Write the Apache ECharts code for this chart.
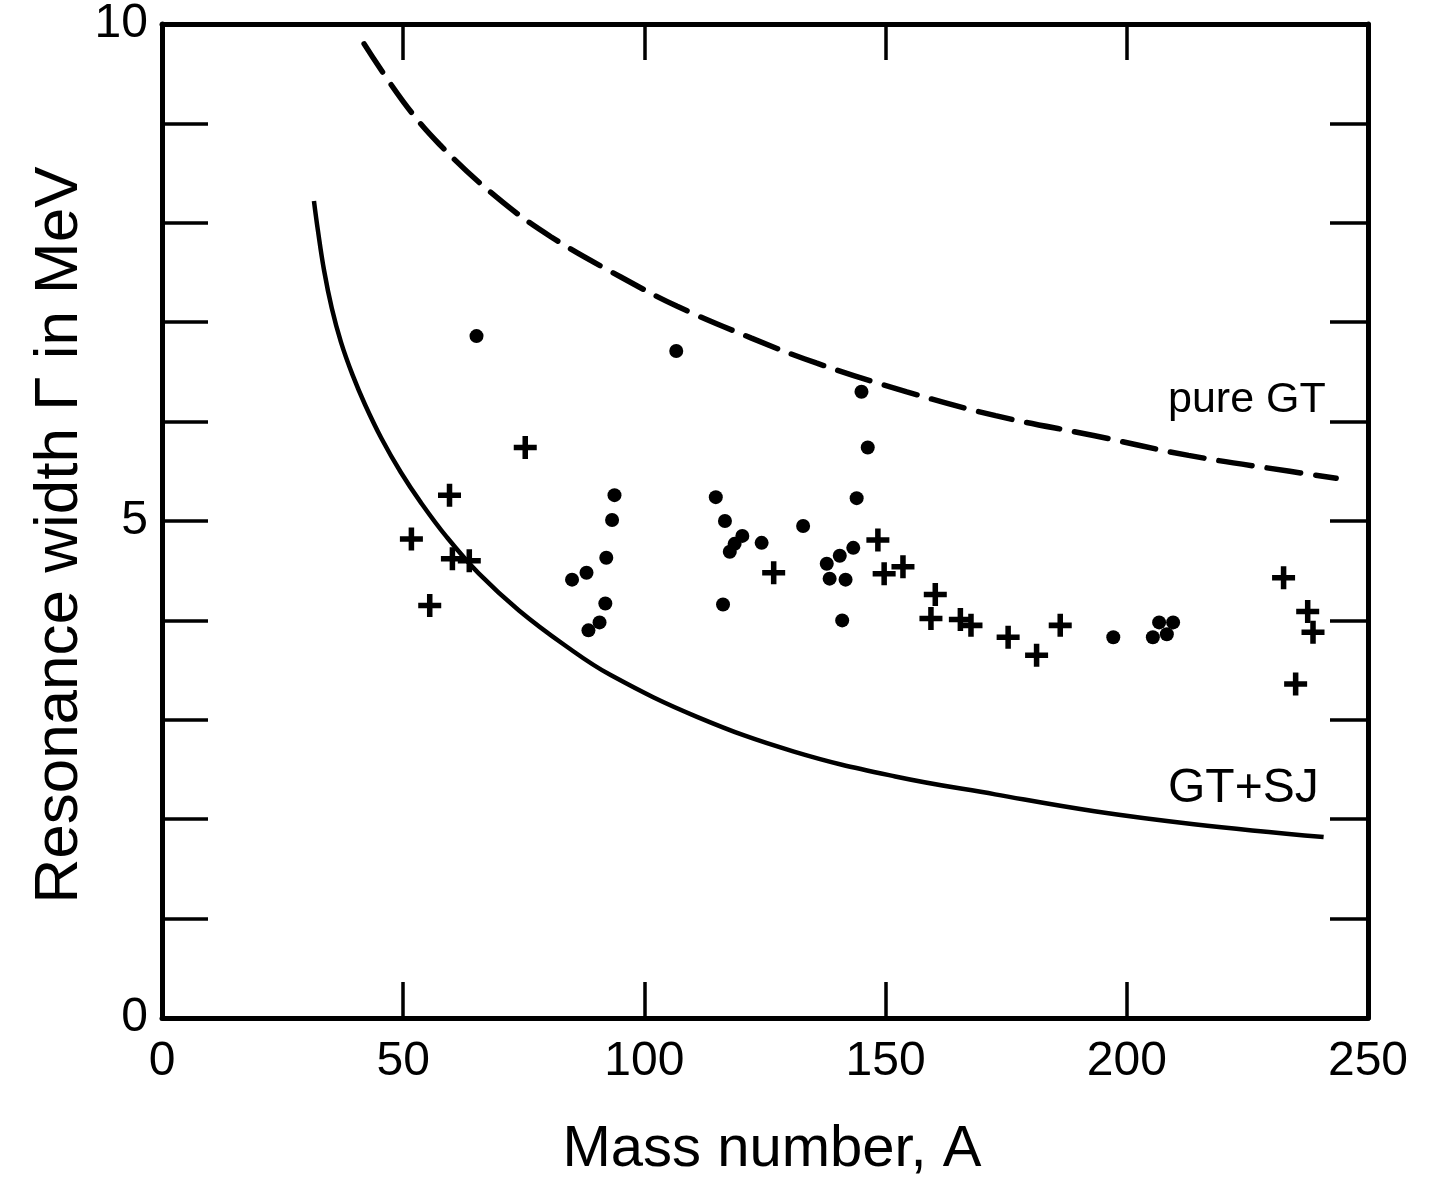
<!DOCTYPE html>
<html><head><meta charset="utf-8">
<script src="https://cdn.jsdelivr.net/npm/echarts@6/dist/echarts.min.js"></script>
<style>html,body{margin:0;padding:0;background:#fff}#c{width:1442px;height:1185px}</style>
</head><body><div id="c"></div><script>
// ---- data ----
const xTickLabels = [0, 50, 100, 150, 200, 250];
const yTickLabels = [0, 5, 10];

// dashed curve "pure GT"
const gtA = [41.9, 50.0, 57.5, 69.3, 80.6, 95.3, 106.8, 122.2, 135.6, 154.4, 172.8, 193.1, 212.8, 233.8, 243.4];
const gtW = [9.80, 9.22, 8.79, 8.26, 7.86, 7.45, 7.16, 6.84, 6.59, 6.30, 6.06, 5.86, 5.66, 5.50, 5.43];

// solid curve "GT+SJ"
const sjA = [31.5, 32.3, 33.6, 35.2, 37.1, 39.5, 42.1, 45.5, 49.5, 53.6, 59.0, 65.7, 74.0, 83.5, 93.0, 110.9, 131.0, 152.0, 172.7, 193.3, 213.9, 240.8];
const sjW = [8.22, 7.93, 7.52, 7.14, 6.80, 6.47, 6.17, 5.83, 5.49, 5.19, 4.84, 4.47, 4.10, 3.75, 3.45, 3.03, 2.68, 2.43, 2.25, 2.08, 1.95, 1.82];

// filled dots
const dotA = [65.2, 106.6, 93.8, 93.3, 92.1, 88.0, 85.0, 91.9, 90.7, 88.4, 145.0, 146.3, 144.0, 114.8, 116.7, 120.3, 118.7, 117.7, 124.3, 132.9, 143.3, 140.5, 137.8, 138.4, 141.7, 116.3, 141.0, 197.2, 205.4, 206.7, 209.6, 208.3];
const dotW = [6.86, 6.71, 5.26, 5.01, 4.63, 4.48, 4.41, 4.17, 3.98, 3.90, 6.30, 5.74, 5.23, 5.24, 5.00, 4.85, 4.77, 4.69, 4.78, 4.95, 4.73, 4.65, 4.57, 4.42, 4.41, 4.16, 4.00, 3.83, 3.83, 3.98, 3.98, 3.86];

// crosses
const crossA = [75.3, 59.6, 51.7, 60.2, 63.7, 55.5, 126.8, 148.4, 149.7, 153.6, 160.3, 159.4, 165.5, 167.7, 175.4, 181.3, 186.2, 232.5, 237.5, 238.6, 235.0];
const crossW = [5.74, 5.26, 4.82, 4.62, 4.60, 4.15, 4.48, 4.81, 4.47, 4.54, 4.26, 4.02, 4.01, 3.95, 3.83, 3.65, 3.95, 4.43, 4.09, 3.88, 3.36];

// ---- chart ----
const FONT = '"Liberation Sans", Arial, sans-serif';
const pairs = (a, b) => a.map((v, i) => [v, b[i]]);
const axisLine = {show: true, onZero: false, lineStyle: {color: '#000', width: 5}};
const tickStyle = {color: '#000', width: 3.5};
const chart = echarts.init(document.getElementById('c'), null, {renderer: 'canvas'});
const option = {
  animation: false,
  backgroundColor: '#fff',
  grid: {left: 162, right: 74, top: 21, bottom: 167, containLabel: false},
  xAxis: [
    {type: 'value', min: 0, max: 250, interval: 50, position: 'bottom',
     axisLine: axisLine,
     axisTick: {inside: true, length: 36, lineStyle: tickStyle},
     axisLabel: {margin: 20, fontSize: 48, color: '#000', fontFamily: FONT,
       formatter: v => xTickLabels.includes(v) ? String(v) : ''},
     splitLine: {show: false}},
    {type: 'value', min: 0, max: 250, interval: 50, position: 'top',
     axisLine: axisLine,
     axisTick: {inside: true, length: 36, lineStyle: tickStyle},
     axisLabel: {show: false}, splitLine: {show: false}}
  ],
  yAxis: [
    {type: 'value', min: 0, max: 10, interval: 1, position: 'left',
     axisLine: axisLine,
     axisTick: {inside: true, length: 46, lineStyle: tickStyle},
     axisLabel: {margin: 14, fontSize: 48, color: '#000', fontFamily: FONT,
       formatter: v => yTickLabels.includes(v) ? String(v) : ''},
     splitLine: {show: false}},
    {type: 'value', min: 0, max: 10, interval: 1, position: 'right',
     axisLine: axisLine,
     axisTick: {inside: true, length: 38, lineStyle: tickStyle},
     axisLabel: {show: false}, splitLine: {show: false}}
  ],
  series: [
    {type: 'line', name: 'pure GT', data: pairs(gtA, gtW), smooth: 0.4, showSymbol: false,
     lineStyle: {color: '#000', width: 5.5, type: [34, 15], cap: 'round'}},
    {type: 'line', name: 'GT+SJ', data: pairs(sjA, sjW), smooth: 0.4, showSymbol: false,
     lineStyle: {color: '#000', width: 4.5}},
    {type: 'scatter', name: 'dots', data: pairs(dotA, dotW), symbol: 'circle', symbolSize: 14,
     itemStyle: {color: '#000', opacity: 1}},
    {type: 'scatter', name: 'crosses', data: pairs(crossA, crossW),
     symbol: 'path://M3.8,0H6.2V3.8H10V6.2H6.2V10H3.8V6.2H0V3.8H3.8Z', symbolSize: 23,
     itemStyle: {color: '#000', opacity: 1}}
  ],
  graphic: [
    {type: 'text', x: 60, y: 535, rotation: Math.PI / 2,
     style: {text: 'Resonance width Γ in MeV', font: '62px ' + FONT, fill: '#000', align: 'center', verticalAlign: 'middle'}},
    {type: 'text', x: 772, y: 1150,
     style: {text: 'Mass number, A', font: '58px ' + FONT, fill: '#000', align: 'center', verticalAlign: 'middle'}},
    {type: 'text', x: 1168, y: 400,
     style: {text: 'pure GT', font: '43px ' + FONT, fill: '#000', align: 'left', verticalAlign: 'middle'}},
    {type: 'text', x: 1168, y: 789,
     style: {text: 'GT+SJ', font: '48px ' + FONT, fill: '#000', align: 'left', verticalAlign: 'middle'}}
  ]
};
chart.setOption(option);
</script></body></html>
